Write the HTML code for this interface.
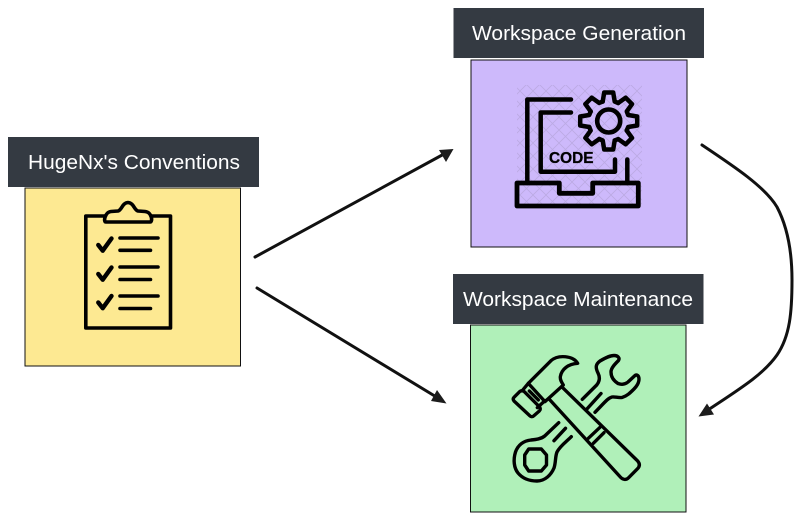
<!DOCTYPE html>
<html><head><meta charset="utf-8"><style>
html,body{margin:0;padding:0;background:#fff}
svg{display:block}
text{font-family:"Liberation Sans",Arial,sans-serif}
</style></head><body>
<svg width="800" height="519" viewBox="0 0 800 519" xmlns="http://www.w3.org/2000/svg">
<defs>
<pattern id="h" width="13" height="13" patternUnits="userSpaceOnUse">
<path d="M0,0L13,13M13,0L0,13" stroke="#b7a6dd" stroke-width=".8" fill="none"/>
</pattern>
</defs>
<rect width="800" height="519" fill="#fff"/>

<!-- boxes -->
<rect x="25" y="188" width="215.500" height="178" fill="#fde992" stroke="#111" stroke-width="1"/>
<rect x="471" y="60" width="216" height="187" fill="#cdb9fb" stroke="#111" stroke-width="1"/>
<rect x="470.500" y="325" width="215.500" height="187" fill="#b0f0b9" stroke="#111" stroke-width="1"/>

<!-- headers -->
<rect x="8" y="137" width="251" height="50" fill="#343a42"/>
<text x="28" y="169" font-size="20" fill="#fff" textLength="212" lengthAdjust="spacingAndGlyphs">HugeNx's Conventions</text>
<rect x="453.500" y="8" width="250.500" height="50" fill="#343a42"/>
<text x="472" y="40" font-size="20" fill="#fff" textLength="214" lengthAdjust="spacingAndGlyphs">Workspace Generation</text>
<rect x="453" y="274" width="250.500" height="50" fill="#343a42"/>
<text x="463" y="306" font-size="20" fill="#fff" textLength="230" lengthAdjust="spacingAndGlyphs">Workspace Maintenance</text>

<!-- clipboard -->
<g fill="none" stroke="#000" stroke-width="3.600" stroke-linecap="round" stroke-linejoin="round">
<path d="M104.500,216H85.800V328H170.500V216H151.500"/>
<path d="M106,222H150C153,222 152,212 145,211.500L138,211C134,210 134,203 128,202.500C122,203 122,210 118,211L111,211.500C105,212 103,222 106,222Z"/>
<path d="M120,238H158M120,250.300H150.500M120,267H158M120,279.500H150.500M120,296H158M120,308.500H150.500"/>
<g stroke-width="4.400">
<path d="M98.300,245L102.700,250.700L111.500,238.500M98.300,274L102.700,279.700L111.500,267.500M98.300,302.500L102.700,308.200L111.500,296"/>
</g>
</g>

<!-- laptop -->
<rect x="517" y="85" width="125" height="122" fill="url(#h)" opacity=".8"/>
<g fill="none" stroke="#000" stroke-width="4.500" stroke-linecap="round" stroke-linejoin="round">
<path d="M571,99.500H527.300V183"/>
<path d="M571,112.500H540.700V171.700H615V159.500"/>
<path d="M627.300,159.500V183"/>
<path d="M517,183H559.300V193.300H592.700V183H638.300V206H517Z" stroke-width="4.800"/>
<g transform="translate(608.700,121)">
<circle r="11.500" stroke-width="4.600"/>
<path d="M-6,-19.500L-4.500,-28.500H4.500L6,-19.500L9.500,-18"/>
<path transform="rotate(45)" d="M-6,-19.500L-4.500,-28.500H4.500L6,-19.500L9.500,-18"/>
<path transform="rotate(90)" d="M-6,-19.500L-4.500,-28.500H4.500L6,-19.500L9.500,-18"/>
<path transform="rotate(135)" d="M-6,-19.500L-4.500,-28.500H4.500L6,-19.500L9.500,-18"/>
<path transform="rotate(180)" d="M-6,-19.500L-4.500,-28.500H4.500L6,-19.500L9.500,-18"/>
<path transform="rotate(225)" d="M-6,-19.500L-4.500,-28.500H4.500L6,-19.500L9.500,-18"/>
<path transform="rotate(270)" d="M-6,-19.500L-4.500,-28.500H4.500L6,-19.500L9.500,-18"/>
<path transform="rotate(315)" d="M-6,-19.500L-4.500,-28.500H4.500L6,-19.500L9.500,-18"/>
</g>
</g>
<text x="549" y="162.800" font-size="15.500" font-weight="700" fill="#000" stroke="#000" stroke-width=".3" textLength="44.500" lengthAdjust="spacingAndGlyphs">CODE</text>

<!-- hammer -->
<g transform="translate(450,265) scale(.3333)" fill="none" stroke="#000" stroke-width="10" stroke-linecap="round" stroke-linejoin="round">
<path d="M235,355L303,287C325,268 370,272 383,295C355,297 335,312 331,335C330,345 335,352 340,360L285,410Z"/>
<path d="M238,378L265,405M216,378L235,355M262,428L285,407"/>
<path d="M192,397L210,379C214,376 219,376 223,380L268,425C272,429 272,434 268,438L252,452C248,456 243,456 239,452L192,408C189,404 189,400 192,397Z"/>
<path d="M300,405L510,635C518,645 528,646 536,638L562,612C570,604 570,596 563,588L335,365"/>
<path d="M415,520L450,487M430,535L462,503"/>
</g>

<!-- wrench -->
<g fill="none" stroke="#000" stroke-width="3.400" stroke-linecap="round" stroke-linejoin="round">
<path d="M582.300,399.300L596.700,385C600,381 600,377 598,373C595,367 596,364 600,361C605,358 610,355.500 614,355.500C618,355.500 620,358 618.500,360.500C615,364 611,368 611,372C611,377 614,381 618,383.500C622,385 625,384.500 628,382L635,375.500C637,374 639,376 639,379C639,383 637,386 634,389C630,393 627,396 622,397.500C618,398 615,396.500 612,397C608,398 605,402 595,412.300"/>
<path d="M586,410L601,393.500"/>
<path d="M558.700,422.700L544.700,436C541,439 536,439.500 531,440C523,441 518,445 515.500,452C513,460 514,468 518,473C523,479 530,481 537,481C545,481 551,475 554,468C556,462 555,457 557,452C560,446 566,442 571.300,436.700"/>
<path d="M554,440.700L565.500,428.300"/>
<path d="M528.700,449H541.300L546.500,455V465L541.300,471H528.700L524.700,465V455Z"/>
</g>

<!-- connectors -->
<g fill="none" stroke="#111" stroke-width="3" stroke-linecap="round">
<path d="M255,257L444,154"/>
<path d="M257,288L438,398"/>
<path d="M702,145C735,167 765,187 777,207C787,226 792,250 792,280C792,312 790,336 777,355C763,375 738,390 708,410"/>
</g>
<g fill="#1c1c1c">
<path d="M453.500,149L439,150L446,162Z"/>
<path d="M446.500,403.500L437,390L431,401Z"/>
<path d="M698.500,416.500L707,403.500L714,414.500Z"/>
</g>
</svg>
</body></html>
